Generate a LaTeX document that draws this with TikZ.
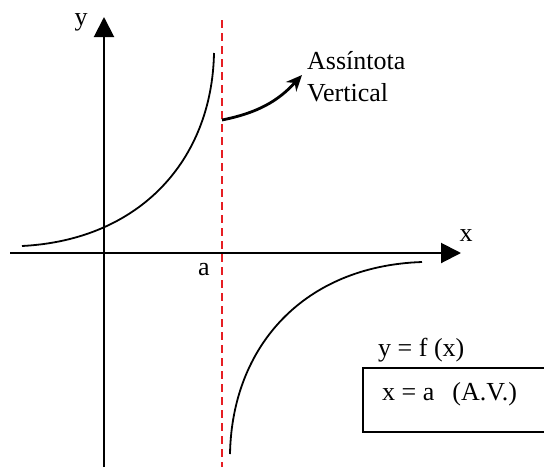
\documentclass[tikz,border=0pt]{standalone}
\usepackage{fontspec}
\setmainfont{Liberation Serif}
\usetikzlibrary{arrows.meta}
\definecolor{cred}{RGB}{230,30,35}
\tikzset{graf/.style={x=1pt,y=-1pt,font=\fontsize{26}{32}\selectfont},
  eixo/.style={line width=2pt,-{Triangle[length=20pt,width=20pt]}},
  ramo/.style={line width=1.8pt},
  lbl/.style={inner sep=0pt}}
\begin{document}
\begin{tikzpicture}[graf]
    \useasboundingbox (0,0) rectangle (544,467);
    \coordinate (ybot) at (104,467);
    \coordinate (ytop) at (104,17);
    \coordinate (xl) at (10,253);
    \coordinate (xr) at (461,253);
    \draw[eixo] (ybot) -- (ytop);
    \draw[eixo] (xl) -- (xr);
    \node[lbl] (ylab) at (81,22) {y};
    \node[lbl] (xlab) at (466,236) {x};
    \node[lbl] (alab) at (204,270) {a};
    \draw[cred,line width=2pt,dash pattern=on 8pt off 5pt] (222,20) -- (222,467);
    \draw[ramo] (22,246) .. controls (140,240) and (212,160) .. (214,53);
    \draw[ramo] (230,454) .. controls (232,346) and (304,266) .. (422,262);
    % legenda da assintota
    \node[lbl,anchor=base west] (ass) at (307,69) {Assíntota};
    \node[lbl,anchor=base west] (vert) at (307,101) {Vertical};
    \coordinate (av) at (222,120);
    \coordinate (tip) at (302,75);
    \draw[line width=2.8pt,-{Stealth[length=16pt,width=14pt]}] (av) to[bend right=18] (tip);
    \node[lbl,anchor=west] (fx) at (378,350) {y = f (x)};
    \draw[line width=1.6pt] (363,368) rectangle (560,432);
    \node[lbl,anchor=west] (xa) at (382,394) {x = a\hspace{18pt}(A.V.)};
  \end{tikzpicture}
\end{document}
